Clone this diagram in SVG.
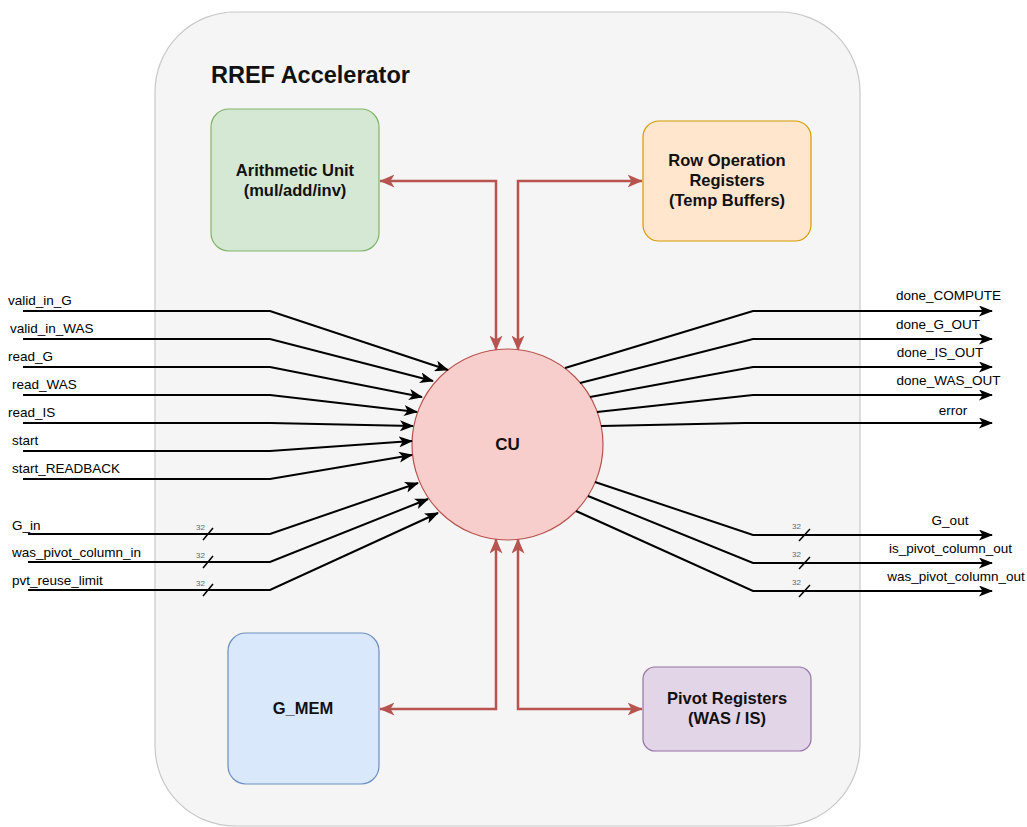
<svg xmlns="http://www.w3.org/2000/svg" width="1027" height="827" viewBox="0 0 1027 827">
  <style>
    .lbl { font-family: "Liberation Sans", Arial, sans-serif; font-size: 13.5px; fill: #000; }
    .bus { font-family: "Liberation Sans", Arial, sans-serif; font-size: 8px; fill: #666; }
    .box-text { font-family: "Liberation Sans", Arial, sans-serif; font-size: 16.5px; font-weight: bold; fill: #111; text-anchor: middle; }
    .title { font-family: "Liberation Sans", Arial, sans-serif; font-size: 23.5px; font-weight: bold; fill: #111; }
    .sig { fill: none; stroke: #000; stroke-width: 2; marker-end: url(#arrowBlack); }
    .slash { stroke: #000; stroke-width: 1.5; }
    .link { fill: none; stroke: #b85450; stroke-width: 2.5; marker-start: url(#arrowRed); marker-end: url(#arrowRed); }
  </style>
  <defs>
    <marker id="arrowBlack" markerUnits="userSpaceOnUse" markerWidth="15" markerHeight="11" refX="13" refY="5.5" orient="auto">
      <path d="M0,0 L14,5.5 L0,11 L3.5,5.5 Z" fill="#000"/>
    </marker>
    <marker id="arrowRed" markerUnits="userSpaceOnUse" markerWidth="16" markerHeight="13" refX="14.5" refY="6.5" orient="auto-start-reverse">
      <path d="M0,0 L15,6.5 L0,13 L4,6.5 Z" fill="#b85450"/>
    </marker>
  </defs>

  <!-- enclosing accelerator block -->
  <g id="accelerator">
    <rect x="155" y="12" width="705" height="814" rx="80" ry="80" fill="#f5f5f5" stroke="#c8c8c8" stroke-width="1.2"/>
    <text class="title" x="211" y="83">RREF Accelerator</text>
  </g>

  <g id="arithmetic-unit">
    <rect x="211" y="109" width="168" height="142" rx="18" fill="#d5e8d4" stroke="#82b366" stroke-width="1.2"/>
    <text class="box-text" x="295" y="176">Arithmetic Unit</text>
    <text class="box-text" x="295" y="196">(mul/add/inv)</text>
  </g>

  <g id="row-op-registers">
    <rect x="643" y="121" width="168" height="120" rx="16" fill="#ffe6cc" stroke="#d79b00" stroke-width="1.2"/>
    <text class="box-text" x="727" y="166">Row Operation</text>
    <text class="box-text" x="727" y="186">Registers</text>
    <text class="box-text" x="727" y="206">(Temp Buffers)</text>
  </g>

  <g id="g-mem">
    <rect x="228" y="633" width="151" height="151" rx="18" fill="#dae8fc" stroke="#6c8ebf" stroke-width="1.2"/>
    <text class="box-text" x="303" y="714">G_MEM</text>
  </g>

  <g id="pivot-registers">
    <rect x="643" y="667" width="168" height="84" rx="12" fill="#e1d5e7" stroke="#9673a6" stroke-width="1.2"/>
    <text class="box-text" x="727" y="704">Pivot Registers</text>
    <text class="box-text" x="727" y="724">(WAS / IS)</text>
  </g>

  <g id="cu">
    <circle cx="507.5" cy="444.5" r="95.5" fill="#f8cecc" stroke="#b85450" stroke-width="1.2"/>
    <text class="box-text" x="507.5" y="450" style="font-size:17px">CU</text>
  </g>

  <g id="connectors">
    <!-- internal bidirectional links -->
    <path class="link" d="M380,181 L496,181 L496,350"/>
    <path class="link" d="M642,181 L518,181 L518,350"/>
    <path class="link" d="M380,709 L496,709 L496,539"/>
    <path class="link" d="M642,709 L518,709 L518,539"/>

    <!-- control inputs -->
    <path class="sig" d="M23,311 L270,311 L448,370"/>
    <path class="sig" d="M23,339 L270,339 L433,381"/>
    <path class="sig" d="M23,367 L270,367 L422,397"/>
    <path class="sig" d="M23,395 L270,395 L417,412"/>
    <path class="sig" d="M23,423 L270,423 L413,426"/>
    <path class="sig" d="M23,451 L270,451 L412,441"/>
    <path class="sig" d="M23,479 L270,479 L412,455"/>

    <!-- bus inputs -->
    <path class="sig" d="M28,534 L270,534 L418,483"/>
    <path class="sig" d="M28,562 L270,562 L428,499"/>
    <path class="sig" d="M28,590 L270,590 L438,513"/>
    <line class="slash" x1="203" y1="540" x2="213" y2="528"/>
    <line class="slash" x1="203" y1="568" x2="213" y2="556"/>
    <line class="slash" x1="203" y1="596" x2="213" y2="584"/>

    <!-- status outputs -->
    <path class="sig" d="M565,368 L753,311 L992,311"/>
    <path class="sig" d="M580,383 L753,339 L992,339"/>
    <path class="sig" d="M590,397 L753,367 L992,367"/>
    <path class="sig" d="M597,412 L753,395 L992,395"/>
    <path class="sig" d="M601,426 L745,423 L992,423"/>

    <!-- bus outputs -->
    <path class="sig" d="M595,482 L753,535 L992,535"/>
    <path class="sig" d="M588,496 L753,563 L992,563"/>
    <path class="sig" d="M576,511 L753,591 L992,591"/>
    <line class="slash" x1="799" y1="541" x2="810" y2="529"/>
    <line class="slash" x1="799" y1="569" x2="810" y2="557"/>
    <line class="slash" x1="799" y1="597" x2="810" y2="585"/>
  </g>

  <g id="port-labels">
    <text class="lbl" x="8" y="305">valid_in_G</text>
    <text class="lbl" x="10" y="333">valid_in_WAS</text>
    <text class="lbl" x="8" y="361">read_G</text>
    <text class="lbl" x="12" y="389">read_WAS</text>
    <text class="lbl" x="8" y="417">read_IS</text>
    <text class="lbl" x="12" y="445">start</text>
    <text class="lbl" x="12" y="473">start_READBACK</text>
    <text class="lbl" x="12" y="530">G_in</text>
    <text class="lbl" x="12" y="557">was_pivot_column_in</text>
    <text class="lbl" x="12" y="585">pvt_reuse_limit</text>
    <text class="bus" x="196" y="530">32</text>
    <text class="bus" x="196" y="558">32</text>
    <text class="bus" x="196" y="586">32</text>

    <text class="lbl" x="948.5" y="300" text-anchor="middle">done_COMPUTE</text>
    <text class="lbl" x="938" y="329" text-anchor="middle">done_G_OUT</text>
    <text class="lbl" x="940" y="357" text-anchor="middle">done_IS_OUT</text>
    <text class="lbl" x="948.5" y="385" text-anchor="middle">done_WAS_OUT</text>
    <text class="lbl" x="953" y="415" text-anchor="middle">error</text>
    <text class="lbl" x="950" y="525" text-anchor="middle">G_out</text>
    <text class="lbl" x="950.5" y="553" text-anchor="middle">is_pivot_column_out</text>
    <text class="lbl" x="956" y="581" text-anchor="middle">was_pivot_column_out</text>
    <text class="bus" x="792" y="529">32</text>
    <text class="bus" x="792" y="557">32</text>
    <text class="bus" x="792" y="585">32</text>
  </g>
</svg>
